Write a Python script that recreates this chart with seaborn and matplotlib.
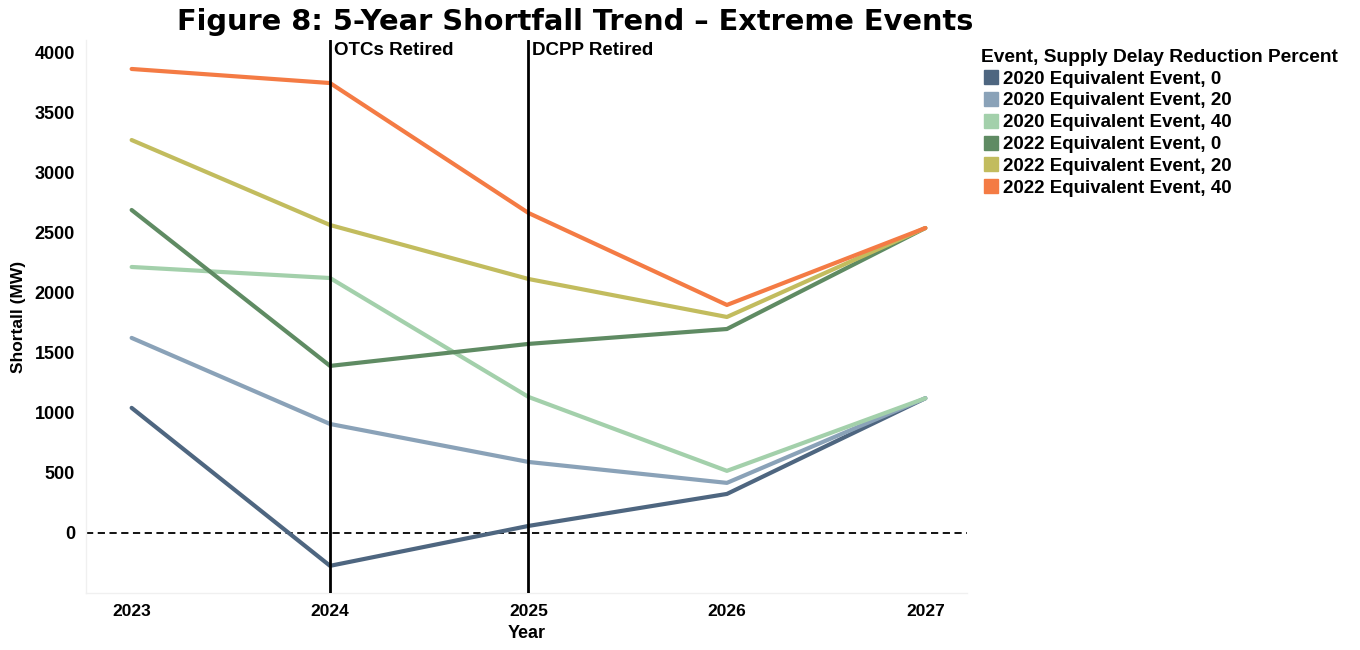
import pandas as pd
import matplotlib.pyplot as plt
import seaborn as sns
from matplotlib.lines import Line2D

# Data
years = [2023, 2024, 2025, 2026, 2027]
series_names = [
    "2020 Equivalent Event, 0",
    "2020 Equivalent Event, 20",
    "2020 Equivalent Event, 40",
    "2022 Equivalent Event, 0",
    "2022 Equivalent Event, 20",
    "2022 Equivalent Event, 40",
]
ev2020_0 = [1040, -274, 58, 324, 1120]
ev2020_20 = [1622, 906, 590, 416, 1120]
ev2020_40 = [2212, 2120, 1131, 516, 1120]
ev2022_0 = [2686, 1389, 1572, 1696, 2536]
ev2022_20 = [3268, 2561, 2112, 1796, 2536]
ev2022_40 = [3859, 3742, 2661, 1896, 2536]
colors = ["#4e6680", "#8aa2b8", "#a3d0ab", "#5f8b63", "#c2bc5e", "#f47b44"]

retire_years = [2024, 2025]
retire_labels = ["OTCs Retired", "DCPP Retired"]

rows = []
for name, vals in zip(series_names, [ev2020_0, ev2020_20, ev2020_40,
                                     ev2022_0, ev2022_20, ev2022_40]):
    for yr, v in zip(years, vals):
        rows.append({"Year": yr, "Shortfall": v, "Event": name})
df = pd.DataFrame(rows)

sns.set_style("white")
plt.rcParams["font.family"] = ["Liberation Sans", "DejaVu Sans"]
plt.rcParams["text.color"] = "black"
plt.rcParams["axes.labelcolor"] = "black"
plt.rcParams["xtick.color"] = "black"
plt.rcParams["ytick.color"] = "black"

fig = plt.figure(figsize=(13.6, 6.5), dpi=100)
ax = fig.add_axes([86 / 1360, 57 / 650, 881 / 1360, 553 / 650])

sns.lineplot(data=df, x="Year", y="Shortfall", hue="Event",
             palette=dict(zip(series_names, colors)), linewidth=3.0,
             legend=False, ax=ax, zorder=3)

ax.axhline(0, color="black", linestyle=(0, (4, 2.5)), linewidth=1.3, zorder=2)
for yr, lab in zip(retire_years, retire_labels):
    ax.axvline(yr, color="black", linewidth=2, zorder=4)
    ax.text(yr + 0.02, 4080, lab, fontsize=13.5, fontweight="bold",
            va="top", ha="left", color="black")

ax.set_xlim(2022.77, 2027.21)
ax.set_ylim(-500, 4100)
ax.set_xticks(years)
ax.set_yticks(range(0, 4001, 500))
ax.set_xticklabels([str(y) for y in years], fontsize=12.5, fontweight="bold")
ax.set_yticklabels([str(v) for v in range(0, 4001, 500)], fontsize=13,
                   fontweight="bold")
ax.tick_params(length=0, pad=8)
ax.set_xlabel("Year", fontsize=13, fontweight="bold")
ax.set_ylabel("Shortall (MW)", fontsize=12.5, fontweight="bold", labelpad=6)
for s in ["top", "right"]:
    ax.spines[s].set_visible(False)
for s in ["left", "bottom"]:
    ax.spines[s].set_color("#f0f0f0")
    ax.spines[s].set_linewidth(1)

handles = [Line2D([], [], marker="s", linestyle="", color=c, markersize=10)
           for c in colors]
leg = fig.legend(handles, series_names, loc="upper left",
                 bbox_to_anchor=(972 / 1360, 1 - 40 / 650), frameon=False,
                 title="Event, Supply Delay Reduction Percent",
                 prop={"weight": "bold", "size": 13.5},
                 handletextpad=0.15, labelspacing=0.25, borderpad=0,
                 handlelength=1.0)
leg.get_title().set_fontweight("bold")
leg.get_title().set_fontsize(13.8)
leg._legend_box.align = "left"
leg._legend_box.sep = 3

fig.text(575 / 1360, 1 - 22 / 650, "Figure 8: 5-Year Shortfall Trend \u2013 Extreme Events",
         ha="center", va="center", fontsize=20.8, fontweight="bold",
         family=["DejaVu Sans"], color="black")

fig.savefig("out.png", dpi=100, facecolor="white")
